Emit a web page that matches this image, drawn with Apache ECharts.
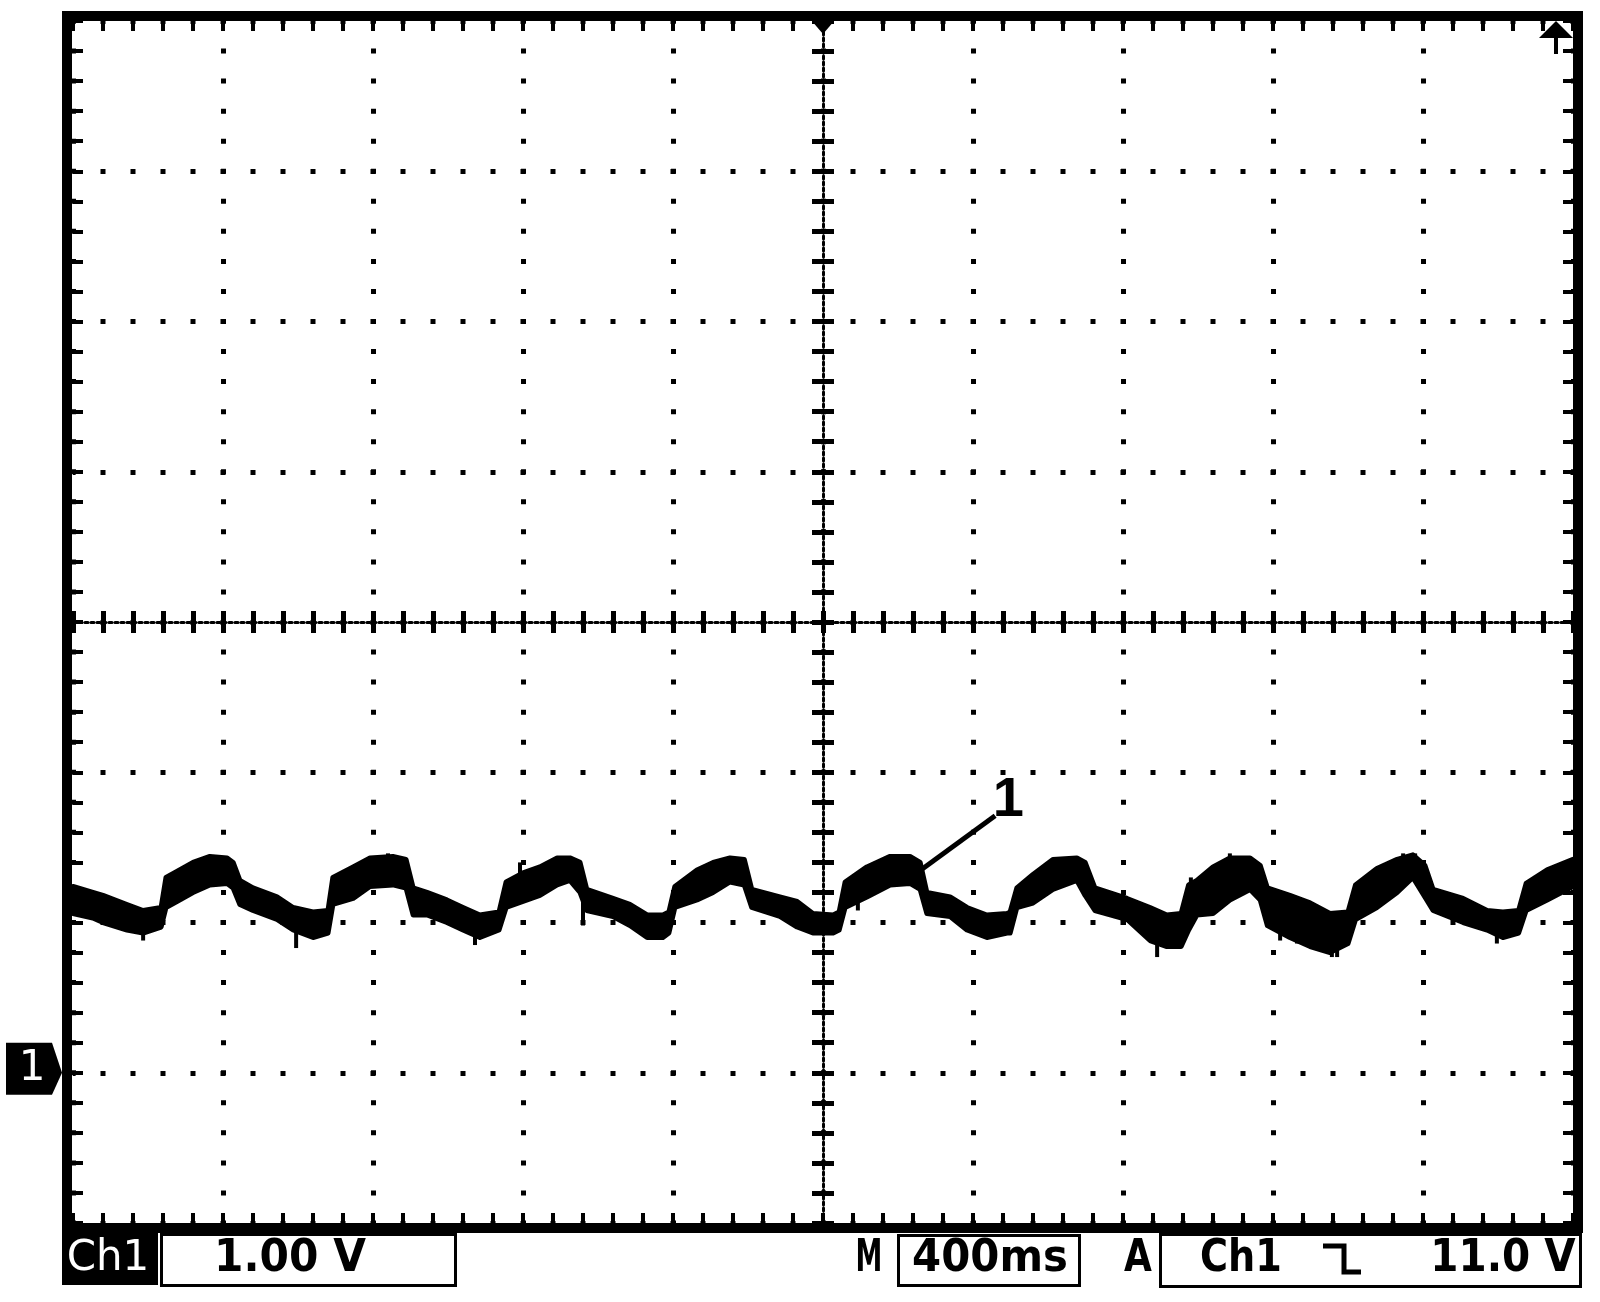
<!DOCTYPE html>
<html><head><meta charset="utf-8">
<script src="https://cdn.jsdelivr.net/npm/echarts@6/dist/echarts.min.js"></script>
<style>html,body{margin:0;padding:0;background:#fff}#c{width:1600px;height:1302px}</style>
</head><body><div id="c"></div>
<script>
// ---- data (time in ms, voltage in V; ground = 0 V) ----
const TIME_MS = [0,53,80,144,187,235,248,277,320,365,411,427,445,480,544,587,640,680,693,747,792,853,888,907,944,997,1040,1085,1136,1155,1200,1245,1291,1325,1352,1370,1440,1485,1531,1573,1589,1605,1664,1707,1752,1790,1810,1885,1931,1973,2027,2043,2059,2117,2179,2232,2259,2277,2339,2384,2437,2491,2499,2517,2560,2613,2677,2699,2725,2811,2872,2917,2955,2975,2997,3040,3085,3139,3166,3185,3245,3299,3352,3400,3420,3477,3531,3573,3605,3627,3707,3771,3813,3855,3875,3931,4000];
const UPPER_V = [1.24,1.20,1.18,1.12,1.08,1.10,1.30,1.34,1.40,1.44,1.43,1.40,1.28,1.23,1.17,1.10,1.07,1.08,1.30,1.37,1.43,1.44,1.42,1.23,1.20,1.15,1.10,1.05,1.07,1.27,1.33,1.37,1.43,1.43,1.40,1.22,1.16,1.12,1.05,1.05,1.07,1.24,1.35,1.40,1.43,1.42,1.22,1.17,1.14,1.06,1.05,1.07,1.27,1.37,1.44,1.44,1.40,1.20,1.17,1.10,1.05,1.06,1.07,1.23,1.32,1.42,1.43,1.40,1.23,1.16,1.10,1.05,1.06,1.25,1.28,1.37,1.43,1.43,1.38,1.23,1.18,1.13,1.06,1.07,1.25,1.36,1.42,1.45,1.38,1.22,1.16,1.08,1.07,1.08,1.26,1.35,1.42];
const LOWER_V = [1.06,1.03,1.00,0.95,0.93,0.97,1.10,1.14,1.20,1.25,1.26,1.23,1.12,1.08,1.02,0.95,0.90,0.93,1.12,1.16,1.24,1.25,1.23,1.05,1.05,1.00,0.95,0.90,0.95,1.10,1.14,1.18,1.25,1.28,1.20,1.08,1.04,0.98,0.90,0.90,0.93,1.10,1.15,1.20,1.27,1.25,1.10,1.04,0.97,0.93,0.93,0.95,1.10,1.17,1.25,1.26,1.22,1.06,1.04,0.95,0.90,0.93,0.93,1.10,1.13,1.22,1.28,1.18,1.08,1.02,0.88,0.84,0.84,0.95,1.05,1.06,1.15,1.22,1.15,0.98,0.90,0.84,0.80,0.86,1.02,1.10,1.20,1.30,1.17,1.08,1.00,0.95,0.90,0.93,1.08,1.15,1.24];
// noise spikes seen on the trace: time (ms), top (V), bottom (V)
const SPIKE_T   = [187,595,840,1072,1192,1360,2093,2891,2920,2931,2981,3085,3219,3264,3317,3357,3371,3547,3579,3797];
const SPIKE_TOP = [0.95,0.95,1.46,0.95,1.40,1.20,1.20,0.95,0.95,0.95,1.30,1.46,1.00,1.00,1.00,1.00,1.00,1.46,1.46,1.00];
const SPIKE_BOT = [0.88,0.83,1.30,0.85,1.20,0.98,1.08,0.77,0.83,0.83,1.15,1.30,0.88,0.86,0.82,0.77,0.77,1.30,1.30,0.86];
const X_RANGE = {min: 0, max: 4000, interval: 400};   // 400 ms / div, 10 div
const Y_RANGE = {min: -1, max: 7, interval: 1};       // 1.00 V / div, 8 div
const ANNOT_LINE = [[2261, 1.35], [2459, 1.71]];
const ANNOT_LABEL = [2494, 1.81];
const ANNOT_TEXT = '1';
const TRIGGER_TIME = 2000;
const READ_CH = 'Ch1', READ_SCALE = '1.00 V', READ_TIME = '400ms', READ_TRIG_SRC = 'Ch1', READ_TRIG_LEVEL = '11.0 V';

const chart = echarts.init(document.getElementById('c'), null, {renderer: 'canvas'});
const BLACK = '#000';

function axis(range, extra) {
  return Object.assign({
    type: 'value', min: range.min, max: range.max, interval: range.interval,
    axisLabel: {show: false},
    axisLine: {show: false, onZero: false},
    axisTick: {show: true, inside: true, length: 10, lineStyle: {color: BLACK, width: 4}},
    minorTick: {show: true, splitNumber: 5, length: 10, lineStyle: {color: BLACK, width: 4}},
    splitLine: {show: false}
  }, extra);
}
const centerLine = {show: true, onZero: false, lineStyle: {color: BLACK, width: 3, type: [3, 3]}};
const centerTick = (inside) => ({show: true, inside: inside, length: 11, lineStyle: {color: BLACK, width: 5}});
const centerMinor = {show: true, splitNumber: 5, length: 11, lineStyle: {color: BLACK, width: 5}};
const noLine = {show: false, onZero: false};

const traceData = TIME_MS.map((t, i) => [t, UPPER_V[i], LOWER_V[i]]);
const spikeData = SPIKE_T.map((t, i) => [t, SPIKE_TOP[i], SPIKE_BOT[i]]);

chart.setOption({
  animation: false,
  backgroundColor: '#fff',
  grid: {left: 73, top: 21, width: 1500, height: 1202, show: false},
  xAxis: [
    axis(X_RANGE, {position: 'bottom', splitLine: {show: true, lineStyle: {color: BLACK, width: 5, type: [5, 25.05], dashOffset: 2.5}}}),
    axis(X_RANGE, {position: 'top'}),
    axis(X_RANGE, {position: 'bottom', offset: -601, axisLine: centerLine, axisTick: centerTick(true), minorTick: centerMinor}),
    axis(X_RANGE, {position: 'bottom', offset: -601, axisLine: noLine, axisTick: centerTick(false), minorTick: centerMinor})
  ],
  yAxis: [
    axis(Y_RANGE, {position: 'left', splitLine: {show: true, lineStyle: {color: BLACK, width: 5, type: [5, 25], dashOffset: 2.5}}}),
    axis(Y_RANGE, {position: 'right'}),
    axis(Y_RANGE, {position: 'left', offset: -750, axisLine: centerLine, axisTick: centerTick(true), minorTick: centerMinor}),
    axis(Y_RANGE, {position: 'left', offset: -750, axisLine: noLine, axisTick: centerTick(false), minorTick: centerMinor})
  ],
  series: [
    {
      type: 'custom', name: 'Ch1', xAxisIndex: 0, yAxisIndex: 0, silent: true,
      data: traceData, encode: {x: 0, y: [1, 2]},
      renderItem: function (params, api) {
        if (params.dataIndexInside !== 0) return null;
        const pts = [];
        for (let i = 0; i < traceData.length; i++) pts.push(api.coord([traceData[i][0], traceData[i][1]]));
        for (let i = traceData.length - 1; i >= 0; i--) pts.push(api.coord([traceData[i][0], traceData[i][2]]));
        return {type: 'polygon', shape: {points: pts}, style: {fill: BLACK, stroke: BLACK, lineWidth: 5, lineJoin: 'round'}};
      },
      z: 5
    },
    {
      type: 'custom', name: 'spikes', xAxisIndex: 0, yAxisIndex: 0, silent: true,
      data: spikeData, encode: {x: 0, y: [1, 2]},
      renderItem: function (params, api) {
        const a = api.coord([api.value(0), api.value(1)]);
        const b = api.coord([api.value(0), api.value(2)]);
        return {type: 'rect', shape: {x: a[0] - 2, y: a[1], width: 4, height: b[1] - a[1]}, style: {fill: BLACK}};
      },
      z: 5
    },
    {
      type: 'line', name: 'annot', data: ANNOT_LINE, symbol: 'none', silent: true,
      lineStyle: {color: BLACK, width: 5}, z: 6
    }
  ]
});

// decorations tied to the scales
const gy = chart.convertToPixel({yAxisIndex: 0}, 0);
const tx = chart.convertToPixel({xAxisIndex: 0}, TRIGGER_TIME);
const lp = chart.convertToPixel({xAxisIndex: 0, yAxisIndex: 0}, ANNOT_LABEL);
const boldText = (text, x, sx, size) => ({
  type: 'text', x: x, y: 1259, scaleX: sx, z: 20,
  style: {text: text, fill: BLACK, fontSize: size || 45, fontWeight: 'bold', fontFamily: 'DejaVu Sans', align: 'center', verticalAlign: 'middle'}
});
chart.setOption({
  graphic: [
    {type: 'rect', z: 10, shape: {x: 67, y: 16, width: 1511, height: 1212}, style: {fill: null, stroke: BLACK, lineWidth: 10}},
    // annotation label
    {type: 'text', z: 12, x: lp[0], y: lp[1], style: {text: ANNOT_TEXT, fill: BLACK, fontSize: 56, fontWeight: 'bold', fontFamily: 'Liberation Sans', align: 'center', verticalAlign: 'middle'}},
    // ground marker
    {type: 'polygon', z: 10, shape: {points: [[6, gy - 30], [52, gy - 30], [62, gy], [52, gy + 22], [6, gy + 22]]}, style: {fill: BLACK}},
    {type: 'text', z: 11, x: 32, y: gy - 4, style: {text: '1', fill: '#fff', fontSize: 42, fontFamily: 'DejaVu Sans', align: 'center', verticalAlign: 'middle'}},
    // trigger position
    {type: 'polygon', z: 10, shape: {points: [[tx - 12, 20], [tx + 12, 20], [tx, 34]]}, style: {fill: BLACK}},
    // trigger level arrow (off screen above)
    {type: 'polygon', z: 10, shape: {points: [[1539, 38], [1573, 38], [1556, 21]]}, style: {fill: BLACK}},
    {type: 'rect', z: 10, shape: {x: 1554, y: 36, width: 4, height: 18}, style: {fill: BLACK}},
    // readouts
    {type: 'rect', z: 15, shape: {x: 62, y: 1233, width: 96, height: 52}, style: {fill: BLACK}},
    {type: 'text', z: 20, x: 108, y: 1259, style: {text: READ_CH, fill: '#fff', fontSize: 42, fontFamily: 'DejaVu Sans', align: 'center', verticalAlign: 'middle'}},
    {type: 'rect', z: 15, shape: {x: 161.5, y: 1234.5, width: 294, height: 51}, style: {fill: '#fff', stroke: BLACK, lineWidth: 3}},
    boldText(READ_SCALE, 290, 0.94),
    boldText('M', 869, 0.6),
    {type: 'rect', z: 15, shape: {x: 898.5, y: 1235.5, width: 181, height: 50}, style: {fill: '#fff', stroke: BLACK, lineWidth: 3}},
    boldText(READ_TIME, 990, 0.93),
    boldText('A', 1138, 0.8),
    {type: 'rect', z: 15, shape: {x: 1160.5, y: 1234.5, width: 420, height: 52}, style: {fill: '#fff', stroke: BLACK, lineWidth: 3}},
    boldText(READ_TRIG_SRC, 1241, 0.85),
    {type: 'polyline', z: 20, shape: {points: [[1323, 1246], [1344, 1246], [1344, 1272], [1361, 1272]]}, style: {stroke: BLACK, lineWidth: 5, fill: null}},
    boldText(READ_TRIG_LEVEL, 1503, 0.9)
  ]
});
</script></body></html>
